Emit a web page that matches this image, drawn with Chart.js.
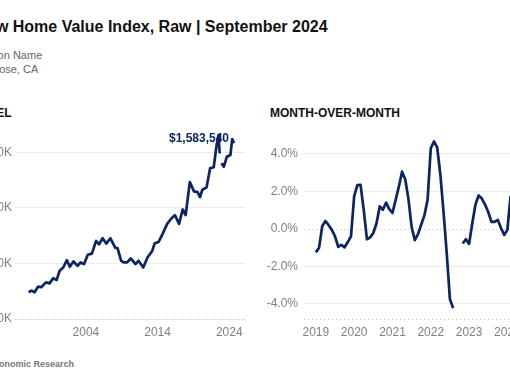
<!DOCTYPE html>
<html lang="en">
<head>
<meta charset="UTF-8">
<title>Zillow Home Value Index, Raw | September 2024</title>
<script src="https://cdn.jsdelivr.net/npm/chart.js"></script>
<style>
    body {
        margin: 0;
        width: 510px;
        height: 382px;
        overflow: hidden;
        position: relative;
        background: #fff;
        font-family: "Liberation Sans", Arial, sans-serif;
    }
    .abs { position: absolute; white-space: nowrap; }
    .title { left: -37px; top: 19px; font-size: 16px; line-height: 16px; font-weight: bold; color: #111; }
    .sub { font-size: 11px; line-height: 14px; color: #666; }
    .panel { top: 106px; font-size: 12px; line-height: 14px; font-weight: bold; color: #111; }
    .source { left: -40px; top: 358.5px; font-size: 9px; line-height: 11px; font-weight: bold; color: #777; }
    #levelBox { left: -35px; top: 120px; width: 285px; height: 230px; }
    #momBox { left: 259px; top: 120px; width: 289px; height: 230px; }
</style>
</head>
<body>
    <div class="abs title">Zillow Home Value Index, Raw | September 2024</div>
    <div class="abs sub" style="left:-25px; top:48px">Region Name</div>
    <div class="abs sub" style="left:-29px; top:62px">San Jose, CA</div>
    <div class="abs panel" style="left:-27px">LEVEL</div>
    <div class="abs panel" style="left:270px">MONTH-OVER-MONTH</div>
    <div class="abs" id="levelBox"><canvas id="levelChart"></canvas></div>
    <div class="abs" id="momBox"><canvas id="momChart"></canvas></div>
    <div class="abs source">Zillow Economic Research</div>

<script>
// level series (month, value in $K); null = missing month
const levelMonths = ['1996-01','1996-06','1996-11','1997-05','1997-10','1998-06','1998-12','1999-06','1999-12',
    '2000-05','2000-11','2001-05','2001-10','2002-04','2002-11','2003-04','2003-10','2004-04','2004-11',
    '2005-06','2005-11','2006-05','2006-11','2007-06','2008-02','2008-06','2008-12','2009-05','2009-10',
    '2010-04','2010-12','2011-05','2012-01','2012-08','2013-04','2013-08','2014-03','2014-09','2015-05',
    '2015-12','2016-06','2017-01','2017-07','2017-12','2018-07','2019-02','2019-08','2019-12','2020-04',
    '2020-11','2021-05','2021-11','2022-04','2022-07','2022-09','2022-10','2022-12','2023-04','2023-09',
    '2024-03','2024-06','2024-09'];
const levelValues = [241, 256, 241, 292, 286, 330, 321, 366, 352,
    435, 464, 530, 470, 518, 479, 509, 495, 578, 589,
    703, 673, 727, 679, 727, 643, 637, 524, 509, 510,
    545, 495, 524, 464, 553, 613, 679, 696, 762, 857,
    905, 935, 857, 986, 935, 1232, 1149, 1143, 1098, 1164,
    1185, 1357, 1366, 1571, 1655, 1491, null, 1402, 1372, 1461,
    1477, 1620, 1583.54];

// month-over-month change in %, monthly from 2019-01
const momStart = 2019;
const momValues = [-1.25, -1.0, 0.15, 0.42, 0.2, -0.05, -0.4, -0.95, -0.85, -0.98, -0.7, -0.4,
    1.75, 2.33, 2.35, 1.0, -0.55, -0.45, -0.22, 0.3, 1.2, 1.02, 1.4, 1.05,
    0.85, 1.55, 2.25, 3.05, 2.65, 1.6, 0.1, -0.6, -0.28, 0.22, 0.72, 1.55,
    4.3, 4.66, 4.35, 2.9, 0.9, -1.3, -3.75, -4.22, null, null, -0.78, -0.55,
    -0.8, 0.3, 1.3, 1.78, 1.62, 1.3, 0.9, 0.38, 0.38, 0.48, 0.05, -0.32,
    -0.05, 1.75];

const levelYTicks = [0, 500000, 1000000, 1500000];
const levelXTicks = [2004, 2014, 2024];
const momYTicks = [-4, -2, 0, 2, 4];
const momXTicks = [2019, 2020, 2021, 2022, 2023, 2024];

const navy = '#0c2461';
const tickColor = '#7f7f7f';
const gridColor = '#ebebeb';
const fontFamily = '"Liberation Sans", Arial, sans-serif';

function toYear(m) {
    const [y, mo] = m.split('-').map(Number);
    return y + (mo - 1) / 12;
}

const levelData = levelMonths.map((m, i) => ({
    x: toYear(m),
    y: levelValues[i] === null ? null : levelValues[i] * 1000
}));
const momData = momValues.map((v, i) => ({ x: momStart + i / 12, y: v }));

// dotted axis line, dotted zero line, end label
const guides = {
    id: 'guides',
    beforeDatasetsDraw(chart, args, opts) {
        const { ctx, chartArea } = chart;
        ctx.save();
        ctx.strokeStyle = '#c4c4c4';
        ctx.lineWidth = 1;
        ctx.setLineDash([1, 3]);
        ctx.beginPath();
        ctx.moveTo(chartArea.left, chartArea.bottom + 0.5);
        ctx.lineTo(chartArea.right, chartArea.bottom + 0.5);
        ctx.stroke();
        if (opts.zero) {
            const y = Math.round(chart.scales.y.getPixelForValue(0)) + 0.5;
            ctx.beginPath();
            ctx.moveTo(chartArea.left, y);
            ctx.lineTo(chartArea.right, y);
            ctx.stroke();
        }
        ctx.restore();
    },
    afterDatasetsDraw(chart, args, opts) {
        if (!opts.endLabel) return;
        const { ctx } = chart;
        const pts = chart.getDatasetMeta(0).data;
        const last = pts[pts.length - 1];
        const val = levelValues[levelValues.length - 1] * 1000;
        ctx.save();
        ctx.font = 'bold 12px ' + fontFamily;
        ctx.fillStyle = navy;
        ctx.textAlign = 'right';
        ctx.textBaseline = 'middle';
        ctx.fillText('$' + Math.round(val).toLocaleString('en-US'), last.x - 5, last.y - 4);
        ctx.restore();
    }
};

function makeChart(id, data, cfg) {
    return new Chart(document.getElementById(id), {
        type: 'line',
        data: {
            datasets: [{
                data: data,
                borderColor: navy,
                borderWidth: 2.7,
                pointRadius: 0,
                tension: 0,
                borderJoinStyle: 'round',
                spanGaps: false
            }]
        },
        options: {
            responsive: true,
            maintainAspectRatio: false,
            animation: false,
            layout: { padding: { top: 9, right: 5, left: 0, bottom: 0 } },
            plugins: {
                legend: { display: false },
                tooltip: { enabled: false },
                guides: cfg.guides
            },
            scales: {
                x: {
                    type: 'linear',
                    min: cfg.xMin,
                    max: cfg.xMax,
                    afterBuildTicks: s => { s.ticks = cfg.xTicks.map(v => ({ value: v })); },
                    afterFit: s => { s.height = 31; },
                    grid: { display: false, drawTicks: false },
                    border: { display: false },
                    ticks: {
                        autoSkip: false,
                        maxRotation: 0,
                        padding: 6,
                        color: tickColor,
                        font: { family: fontFamily, size: 12 },
                        callback: v => String(v)
                    }
                },
                y: {
                    min: cfg.yMin,
                    max: cfg.yMax,
                    afterBuildTicks: s => { s.ticks = cfg.yTicks.map(v => ({ value: v })); },
                    afterFit: s => { s.width = cfg.yWidth; },
                    grid: {
                        drawTicks: false,
                        lineWidth: 1,
                        color: c => (cfg.guides.zero && c.tick && c.tick.value === 0) ? 'rgba(0,0,0,0)' : gridColor
                    },
                    border: { display: false },
                    ticks: {
                        padding: cfg.yPad,
                        color: tickColor,
                        font: { family: fontFamily, size: 12 },
                        callback: cfg.yLabel
                    }
                }
            }
        },
        plugins: [guides]
    });
}

makeChart('levelChart', levelData, {
    xMin: 1994.1, xMax: 2026.2, xTicks: levelXTicks,
    yMin: 0, yMax: 1700000, yTicks: levelYTicks,
    yWidth: 50, yPad: 3,
    yLabel: v => '$' + (v / 1000).toLocaleString('en-US') + 'K',
    guides: { zero: false, endLabel: true }
});

makeChart('momChart', momData, {
    xMin: 2018.69, xMax: 2024.93, xTicks: momXTicks,
    yMin: -4.8, yMax: 5.1, yTicks: momYTicks,
    yWidth: 45, yPad: 6,
    yLabel: v => v.toFixed(1) + '%',
    guides: { zero: true, endLabel: false }
});
</script>
</body>
</html>
